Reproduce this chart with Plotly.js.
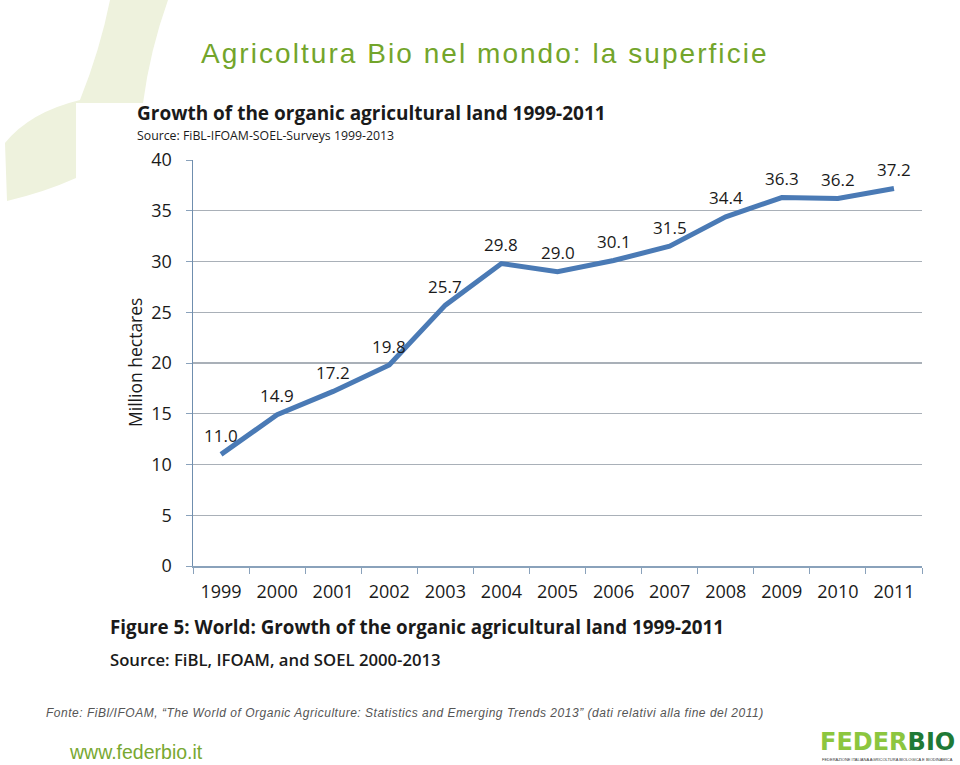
<!DOCTYPE html>
<html>
<head>
<meta charset="utf-8">
<script src="https://cdn.plot.ly/plotly-3.0.1.min.js"></script>
<style>
html,body{margin:0;padding:0;background:#fff;}
#chart{width:960px;height:765px;}
</style>
</head>
<body>
<div id="chart"></div>
<script>
// ---- data ----
var years = ['1999','2000','2001','2002','2003','2004','2005','2006','2007','2008','2009','2010','2011'];
var hectares = [11.0, 14.9, 17.2, 19.8, 25.7, 29.8, 29.0, 30.1, 31.5, 34.4, 36.3, 36.2, 37.2];
var yTicks = [0, 5, 10, 15, 20, 25, 30, 35, 40];

// ---- helpers (pixel -> paper) ----
var W = 960, H = 765;
function px(x){ return x / W; }
function py(y){ return 1 - y / H; }
function pathPx(cmds){
  return cmds.map(function(c){
    var s = c[0];
    for (var i = 1; i < c.length; i += 2) {
      s += (i > 1 ? ' ' : '') + px(c[i]).toFixed(4) + ',' + py(c[i+1]).toFixed(4);
    }
    return s;
  }).join(' ') + ' Z';
}

var FONT = 'Open Sans, Noto Sans, sans-serif';

var trace = {
  x: years,
  y: hectares,
  type: 'scatter',
  mode: 'lines',
  line: {color: '#4a7ab5', width: 5},
  hoverinfo: 'skip',
  showlegend: false
};

var annotations = [];
for (var i = 0; i < years.length; i++) {
  annotations.push({
    x: i, y: hectares[i], xref: 'x', yref: 'y',
    text: hectares[i].toFixed(1), showarrow: false,
    yshift: 19, font: {family: FONT, size: 17, color: '#1a1a1a'}
  });
}

var spacing = {};
function note(text, x, y, size, color, opts){
  opts = opts || {};
  var a = {
    text: text, xref: 'paper', yref: 'paper', x: px(x), y: py(y),
    xanchor: opts.xanchor || 'left', yanchor: 'middle', align: opts.align || 'left', showarrow: false,
    textangle: opts.angle || 0,
    font: {family: opts.family || FONT, size: size, color: color,
           weight: opts.weight || 'normal', style: opts.style || 'normal'}
  };
  if (opts.ls) spacing[annotations.length] = opts.ls;
  annotations.push(a);
}

var ARIAL = 'Liberation Sans, Arial, sans-serif';
note('Agricoltura Bio nel mondo: la superficie', 199, 54, 28, '#73a52b', {family: ARIAL, ls: 2.05});
note('Growth of the organic agricultural land 1999-2011', 135, 113, 19, '#1a1a1a', {weight: 'bold'});
note('Source: FiBL-IFOAM-SOEL-Surveys 1999-2013', 135, 135, 12.3, '#1a1a1a');
note('Figure 5: World: Growth of the organic agricultural land 1999-2011', 108, 627, 18.8, '#1a1a1a', {weight: 'bold'});
note('Source: FiBL, IFOAM, and SOEL 2000-2013', 108, 659, 16.7, '#1a1a1a', {weight: 600});
note('Fonte: FiBl/IFOAM, \u201cThe World of Organic Agriculture: Statistics and Emerging Trends 2013\u201d (dati relativi alla fine del 2011)', 44, 713, 12, '#555555', {family: ARIAL, style: 'italic', ls: 0.52});
note('www.federbio.it', 67, 752, 19.5, '#78a832', {family: 'Liberation Sans Narrow, Liberation Sans, Arial, sans-serif'});
note('<span style="color:#8cc63f">FEDER</span><span style="color:#1f7a36">BIO</span>', 957, 742, 24, '#8cc63f', {family: 'DejaVu Sans, sans-serif', weight: 'bold', xanchor: 'right', align: 'right'});
note('FEDERAZIONE ITALIANA AGRICOLTURA BIOLOGICA E BIODINAMICA', 955, 759, 4, '#333333', {family: ARIAL, xanchor: 'right', align: 'right'});
// y-axis title
annotations.push({
  text: 'Million hectares', xref: 'paper', yref: 'paper', x: px(135), y: py(363),
  xanchor: 'center', yanchor: 'middle', textangle: -90, showarrow: false,
  font: {family: FONT, size: 17.5, color: '#1a1a1a'}
});

var leafPath = pathPx([
  ['M', 110, 0], ['L', 168, 0], ['Q', 150, 50, 143, 103], ['L', 76, 103], ['L', 76, 178],
  ['Q', 45, 192, 7, 201], ['L', 5, 143], ['Q', 30, 112, 80, 100], ['Q', 100, 50, 110, 0]
]);

var layout = {
  width: W, height: H,
  margin: {l: 0, r: 0, t: 0, b: 0},
  paper_bgcolor: '#ffffff',
  plot_bgcolor: 'rgba(0,0,0,0)',
  showlegend: false,
  xaxis: {
    type: 'category',
    domain: [px(193), px(922)],
    range: [-0.5, 12.5],
    tickson: 'boundaries',
    ticks: 'outside', ticklen: 6, tickcolor: '#8aa2bb', tickwidth: 1,
    ticklabelstandoff: 9,
    showgrid: false, zeroline: false,
    showline: true, linecolor: '#8aa2bb', linewidth: 1.5,
    tickfont: {family: FONT, size: 18, color: '#1a1a1a'},
    fixedrange: true
  },
  yaxis: {
    domain: [py(566), py(160)],
    range: [0, 40],
    tickvals: yTicks,
    ticktext: yTicks.map(String),
    ticks: 'outside', ticklen: 6, tickcolor: '#8aa2bb', tickwidth: 1,
    ticklabelstandoff: 10,
    showgrid: true, gridcolor: '#a9b0b8', gridwidth: 1.3,
    zeroline: false,
    showline: true, linecolor: '#6f8eae', linewidth: 1.5,
    tickfont: {family: FONT, size: 18, color: '#1a1a1a'},
    fixedrange: true
  },
  shapes: [{
    type: 'path', xref: 'paper', yref: 'paper', path: leafPath,
    fillcolor: '#eef2dd', line: {width: 0}, layer: 'below'
  }],
  annotations: annotations
};

Plotly.newPlot('chart', [trace], layout, {displayModeBar: false, staticPlot: true}).then(function(gd){
  var groups = gd.querySelectorAll('.annotation');
  groups.forEach(function(g){
    var idx = +g.getAttribute('data-index');
    if (spacing[idx]) {
      var t = g.querySelector('.annotation-text');
      if (t) t.style.letterSpacing = spacing[idx] + 'px';
    }
  });
});
</script>
</body>
</html>
